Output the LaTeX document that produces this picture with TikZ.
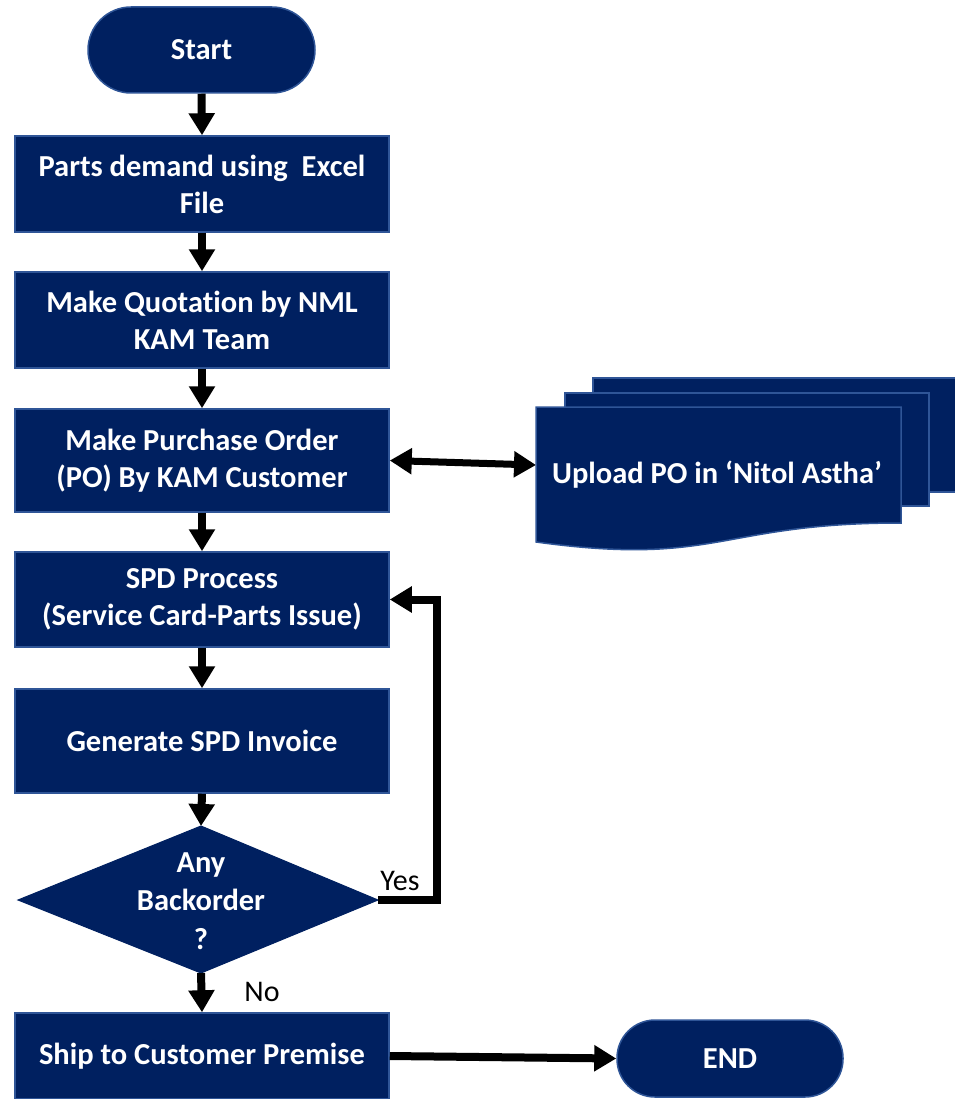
\documentclass[tikz,border=0pt]{standalone}
\usepackage{fontspec}
\setmainfont{Carlito}[Ligatures=NoCommon]
\usetikzlibrary{arrows.meta}
\definecolor{navy}{HTML}{002060}
\definecolor{edgeblue}{HTML}{2F5597}
\begin{document}
\begin{tikzpicture}[x=1pt,y=-1pt,
  shapefill/.style={draw=edgeblue,line width=1.5pt,fill=navy},
  lbl/.style={text=white,font=\fontsize{30.5}{37}\selectfont\bfseries,align=center,inner sep=0pt},
  box/.style={shapefill,lbl,minimum width=374pt},
  term/.style={shapefill,lbl,rounded corners=38pt},
  arr/.style={line width=8pt,-{Triangle[length=22pt,width=25pt]}},
  darr/.style={line width=7pt,{Triangle[length=22pt,width=25pt]}-{Triangle[length=22pt,width=25pt]}},
  note/.style={font=\fontsize{30}{34}\selectfont,inner sep=0pt}]
\useasboundingbox (0,0) rectangle (954,1099);

% terminals and boxes
\node[term,minimum width=227pt,minimum height=86pt,rounded corners=43pt] (start) at (201.5,50) {Start};
\node[box,minimum height=96pt] (b1) at (202,184) {Parts demand using\ \ Excel\\File};
\node[box,minimum height=96pt] (b2) at (202,320) {Make Quotation by NML\\KAM Team};
\node[box,minimum height=103pt] (b3) at (202,460.5) {Make Purchase Order\\(PO) By KAM Customer};
\node[box,minimum height=95pt] (b4) at (202,599.5) {SPD Process\\(Service Card-Parts Issue)};
\node[box,minimum height=104pt] (b5) at (202,741) {Generate SPD Invoice};
\node[box,minimum height=86pt] (b6) at (202,1056) {Ship to Customer Premise};
\node[term,minimum width=226pt,minimum height=77pt] (end) at (730,1058.5) {END};

% decision diamond
\coordinate (dT) at (201,826);
\coordinate (dR) at (378,900);
\coordinate (dB) at (201,973);
\coordinate (dL) at (18,900);
\filldraw[fill=navy,draw=navy,line width=1pt] (dT) -- (dR) -- (dB) -- (dL) -- cycle;
\node[lbl,font=\fontsize{30.5}{38.5}\selectfont\bfseries] (dq) at (201,901) {Any\\Backorder\\?};

% multi-document
\filldraw[shapefill] (593,378) rectangle (957,492);
\filldraw[shapefill] (565,393) rectangle (929,506);
\filldraw[shapefill] (536,407) -- (901,407) -- (901,523)
  .. controls (718.5,523) and (718.5,567) .. (536,542) -- cycle;
\coordinate (docL) at (536,465);
\node[lbl] (doc) at (717,475) {Upload PO in ‘Nitol Astha’};

% connectors
\draw[arr] (start.south) -- (b1.north);
\draw[arr] (b1.south) -- (b2.north);
\draw[arr] (b2.south) -- (b3.north);
\draw[arr] (b3.south) -- (b4.north);
\draw[arr] (b4.south) -- (b5.north);
\draw[arr] (b5.south) -- (dT);
\draw[arr] (dB) -- (b6.north);
\draw[darr] (b3.east) -- (docL);
\draw[arr] (dR) -- (437,900) |- (b4.east);
\draw[arr] (b6.east) -- (end.west);

\node[note] (yes) at (400,881) {Yes};
\node[note] (no) at (262,992) {No};
\end{tikzpicture}
\end{document}
